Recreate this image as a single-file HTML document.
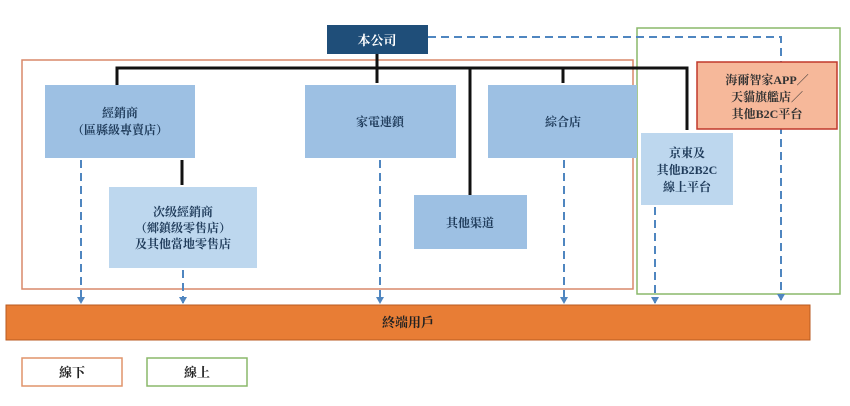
<!DOCTYPE html>
<html><head><meta charset="utf-8"><style>
body{margin:0;background:#fff;}
svg text{font-family:"Liberation Serif","Noto Serif CJK SC",serif;font-weight:bold;}
</style></head><body>
<svg width="850" height="401" xmlns="http://www.w3.org/2000/svg">
<defs><marker id="a" markerWidth="8" markerHeight="8" refX="6" refY="4" orient="auto" markerUnits="userSpaceOnUse"><path d="M0,0 L7,4 L0,8 z" fill="#4f86c0"/></marker></defs>
<rect x="22" y="60" width="611" height="229" fill="none" stroke="#d9896a" stroke-width="1.5"/>
<rect x="637" y="28" width="203" height="266" fill="none" stroke="#8ab86a" stroke-width="1.5"/>
<g stroke="#111" stroke-width="3" fill="none">
<path d="M117,85 V68 H687 V130"/><path d="M377,54 V83"/><path d="M470,68 V195"/><path d="M563,68 V83"/><path d="M182,160 V185"/>
</g>
<g stroke="#4f86c0" stroke-width="2" stroke-dasharray="8,5" fill="none" marker-end="url(#a)">
<path d="M81,160 V303"/><path d="M183,270 V303"/><path d="M380,160 V303"/><path d="M564,160 V303"/><path d="M655,207 V303"/><path d="M428,37 H781 V300"/>
</g>
<rect x="327" y="25" width="101" height="29" fill="#1f4e79"/>
<text x="377" y="45" fill="#fff" font-size="13" text-anchor="middle">本公司</text>
<rect x="45" y="85" width="150" height="73" fill="#9dc0e3"/>
<text x="120" y="117" font-size="12" fill="#1f3b5a" text-anchor="middle">經銷商</text>
<text x="120" y="134" font-size="12" fill="#1f3b5a" text-anchor="middle">（區縣級專賣店）</text>
<rect x="109" y="187" width="148" height="81" fill="#bdd7ee"/>
<text x="183" y="216" font-size="12" fill="#1f3b5a" text-anchor="middle">次级經銷商</text>
<text x="183" y="232" font-size="12" fill="#1f3b5a" text-anchor="middle">（鄉鎮级零售店）</text>
<text x="183" y="248" font-size="12" fill="#1f3b5a" text-anchor="middle">及其他當地零售店</text>
<rect x="305" y="85" width="151" height="73" fill="#9dc0e3"/>
<text x="380" y="126" font-size="12" fill="#1f3b5a" text-anchor="middle">家電連鎖</text>
<rect x="414" y="195" width="113" height="54" fill="#9dc0e3"/>
<text x="470" y="227" font-size="12" fill="#1f3b5a" text-anchor="middle">其他渠道</text>
<rect x="488" y="85" width="149" height="73" fill="#9dc0e3"/>
<text x="563" y="126" font-size="12" fill="#1f3b5a" text-anchor="middle">綜合店</text>
<rect x="641" y="133" width="92" height="72" fill="#bdd7ee"/>
<text x="687" y="157" font-size="12" fill="#1f3b5a" text-anchor="middle">京東及</text>
<text x="687" y="174" font-size="12" fill="#1f3b5a" text-anchor="middle">其他B2B2C</text>
<text x="687" y="191" font-size="12" fill="#1f3b5a" text-anchor="middle">線上平台</text>
<rect x="697" y="62" width="140" height="67" fill="#f6b89a" stroke="#c0392b" stroke-width="1.5"/>
<text x="767" y="84" font-size="12" fill="#333" text-anchor="middle">海爾智家APP／</text>
<text x="767" y="101" font-size="12" fill="#333" text-anchor="middle">天貓旗艦店／</text>
<text x="767" y="118" font-size="12" fill="#333" text-anchor="middle">其他B2C平台</text>
<rect x="6" y="305" width="804" height="35" fill="#e87d35" stroke="#b85a20" stroke-width="1"/>
<text x="408" y="327" font-size="13" fill="#222" text-anchor="middle">終端用戶</text>
<rect x="22" y="358" width="100" height="28" fill="none" stroke="#e0946a" stroke-width="1.5"/>
<text x="72" y="377" font-size="13" fill="#222" text-anchor="middle">線下</text>
<rect x="147" y="358" width="100" height="28" fill="none" stroke="#8ab86a" stroke-width="1.5"/>
<text x="197" y="377" font-size="13" fill="#222" text-anchor="middle">線上</text>
</svg>
</body></html>
